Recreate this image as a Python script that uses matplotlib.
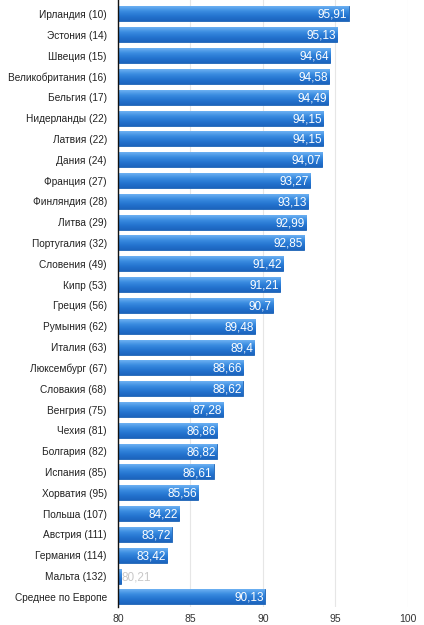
import matplotlib
matplotlib.use("Agg")
import matplotlib.pyplot as plt
import numpy as np
from matplotlib.colors import LinearSegmentedColormap

plt.rcParams['font.family'] = ['Liberation Sans', 'DejaVu Sans']

countries = ["Ирландия (10)", "Эстония (14)", "Швеция (15)", "Великобритания (16)",
             "Бельгия (17)", "Нидерланды (22)", "Латвия (22)", "Дания (24)",
             "Франция (27)", "Финляндия (28)", "Литва (29)", "Португалия (32)",
             "Словения (49)", "Кипр (53)", "Греция (56)", "Румыния (62)",
             "Италия (63)", "Люксембург (67)", "Словакия (68)", "Венгрия (75)",
             "Чехия (81)", "Болгария (82)", "Испания (85)", "Хорватия (95)",
             "Польша (107)", "Австрия (111)", "Германия (114)", "Мальта (132)",
             "Среднее по Европе"]
values = [95.91, 95.13, 94.64, 94.58, 94.49, 94.15, 94.15, 94.07, 93.27, 93.13,
          92.99, 92.85, 91.42, 91.21, 90.7, 89.48, 89.4, 88.66, 88.62, 87.28,
          86.86, 86.82, 86.61, 85.56, 84.22, 83.72, 83.42, 80.21, 90.13]
ticks = [80, 85, 90, 95, 100]

fig = plt.figure(figsize=(4.24, 6.25), dpi=100)
ax = fig.add_axes([0.278, 0.029, 0.684, 0.971])

base = 80
y = np.arange(len(countries))
bars = ax.barh(y, [v - base for v in values], left=base, height=0.72,
               color="#2b7fd9", edgecolor="#1d62b5", linewidth=0.6, zorder=3)

cmap = LinearSegmentedColormap.from_list("g", ["#6cb0f2", "#3a8ce0", "#2474d0", "#1c64bd"])
grad = np.linspace(0, 1, 50).reshape(-1, 1)
for b in bars:
    x0, y0 = b.get_x(), b.get_y()
    w, h = b.get_width(), b.get_height()
    im = ax.imshow(grad, cmap=cmap, aspect="auto", extent=(x0, x0 + w, y0 + h, y0),
                   zorder=3.5, origin="upper")
    im.set_clip_path(b)

for yi, v in zip(y, values):
    txt = f"{v:g}".replace(".", ",")
    if v - base < 2:
        ax.text(v + 0.05, yi + 0.05, txt, ha="left", va="center", fontsize=8.5,
                color="#c8c8c8", zorder=5)
    else:
        ax.text(v - 0.08, yi + 0.05, txt, ha="right", va="center", fontsize=8.5,
                color="white", zorder=5)

ax.set_xlim(80, 100)
ax.set_ylim(len(countries) - 0.52, -0.67)
ax.set_yticks(y)
ax.set_yticklabels(countries, fontsize=7.3, color="#222222")
ax.set_xticks(ticks)
ax.set_xticklabels([str(t) for t in ticks], fontsize=7.5, color="#333333")
ax.tick_params(axis="both", length=0)
ax.tick_params(axis="y", pad=8)
ax.tick_params(axis="x", pad=5)
ax.xaxis.grid(True, color="#e6e6e6", linewidth=0.8, zorder=0)
ax.set_axisbelow(True)
for s in ["top", "right", "bottom"]:
    ax.spines[s].set_visible(False)
ax.spines["left"].set_color("#111111")
ax.spines["left"].set_linewidth(1.0)
ax.spines["left"].set_zorder(6)

fig.savefig("out.png", dpi=100)
